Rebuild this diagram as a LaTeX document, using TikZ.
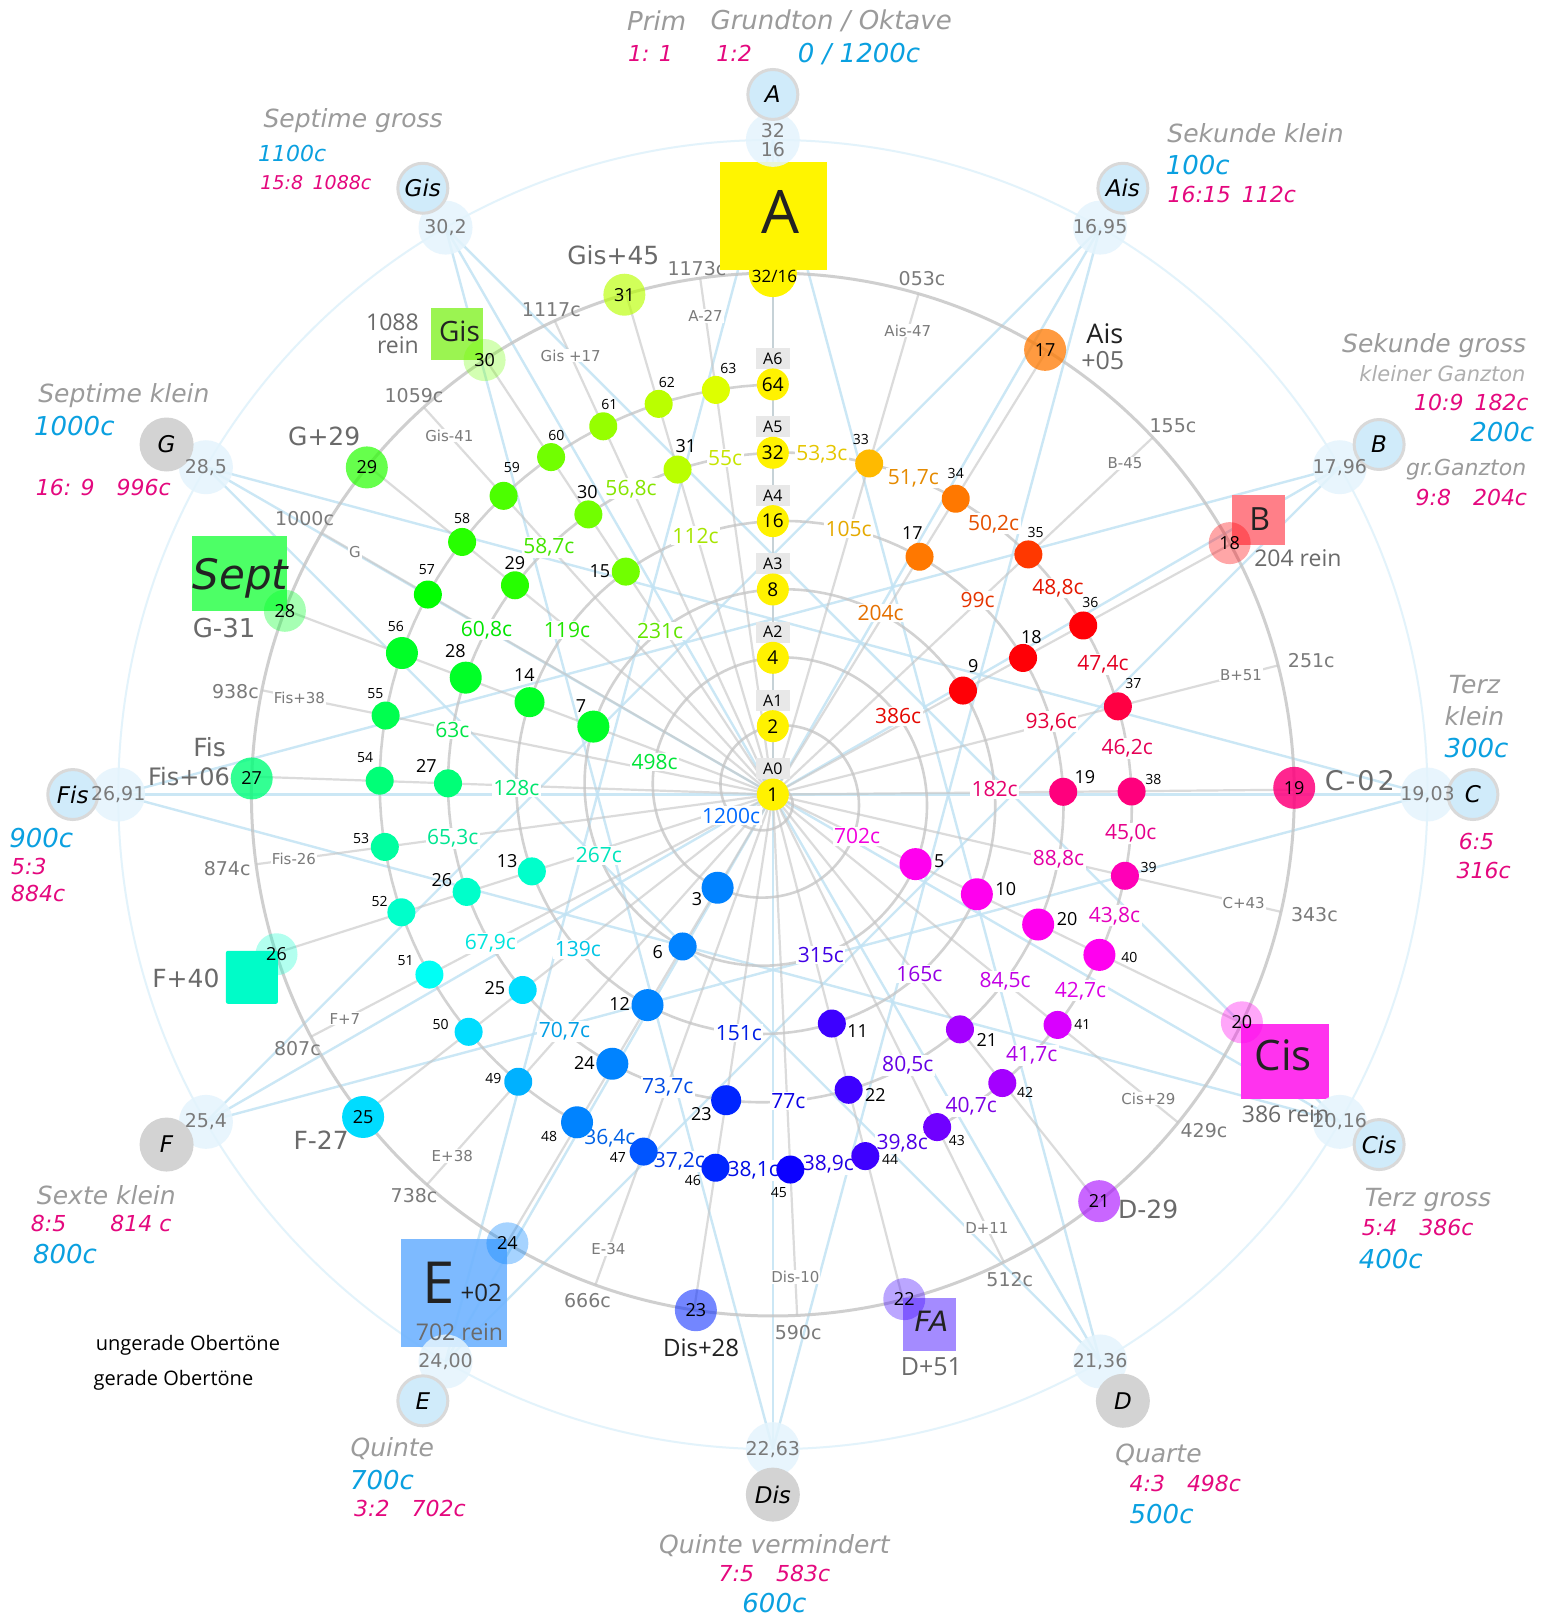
\documentclass[tikz,border=0pt]{standalone}
\usepackage{fontspec}
\setmainfont{Open Sans}
\newfontfamily\vfont{DejaVu Sans}
\usetikzlibrary{calc}
\definecolor{tgray}{HTML}{9B9B9B}
\definecolor{tblue}{HTML}{0AA0E0}
\definecolor{tmag}{HTML}{E4087E}
\definecolor{lgray}{HTML}{6A6A6A}
\definecolor{dgray}{HTML}{7A7A7A}
\definecolor{lineblue}{HTML}{C2E3F4}
\definecolor{faintblue}{HTML}{E3F3FB}
\definecolor{ringgray}{HTML}{C4C4C4}
\definecolor{etfill}{HTML}{E4F4FD}
\definecolor{notefill}{HTML}{D0EBFA}
\definecolor{notegray}{HTML}{D3D3D3}
\definecolor{noteborder}{HTML}{D9D9D9}
\definecolor{abox}{HTML}{E8E8E8}
\definecolor{sqA}{HTML}{FFF500}
\definecolor{sqGis}{HTML}{9BF451}
\definecolor{sqSept}{HTML}{4DFF66}
\definecolor{sqB}{HTML}{FF7F88}
\definecolor{sqCis}{HTML}{FF33EE}
\definecolor{sqE}{HTML}{72B5FF}
\definecolor{sqFA}{HTML}{A48BFF}
\definecolor{sqF}{HTML}{00FCC8}
\definecolor{txtdark}{HTML}{222222}
\newcommand\fsz[1]{\fontsize{#1}{#1}\selectfont}
\newcommand\sethue[3]{%
  \edef\hutmp{\noexpand\convertcolorspec{Hsb}{#2,1,#3}{rgb}\noexpand\hucs}\hutmp
  \edef\hutmp{\noexpand\definecolor{#1}{rgb}{\hucs}}\hutmp}
\tikzset{
 lb/.style={draw=lineblue, line width=2.4pt, opacity=0.85},
 ray/.style={draw=ringgray, line width=2.2pt, opacity=0.6},
 spir/.style={draw=ringgray, line width=2.6pt, opacity=0.75},
 ringc/.style={draw=ringgray, line width=3pt, opacity=0.8},
 faint/.style={draw=faintblue, line width=2pt},
 etn/.style={circle, fill=etfill, fill opacity=0.85, minimum size=54pt, inner sep=0pt},
 ett/.style={inner sep=0pt, text=dgray, align=center, font=\vfont\fsz{19}},
 note/.style={circle, fill=notefill, draw=noteborder, line width=3pt, minimum size=50pt, inner sep=0pt, font=\vfont\itshape\fsz{23}},
 noteg/.style={circle, fill=notegray, minimum size=54pt, inner sep=0pt, font=\vfont\itshape\fsz{23}},
 snode/.style={circle, inner sep=0pt},
 ilab/.style={fill=white, inner sep=1.5pt, font=\fsz{21}},
 dev/.style={fill=white, inner sep=1pt, text=dgray, font=\vfont\fsz{15}},
 cent/.style={inner sep=0pt, text=dgray, font=\vfont\fsz{19}},
 ttl/.style={text=tgray, font=\vfont\itshape\fsz{25}},
 blu/.style={text=tblue, font=\vfont\itshape\fsz{26}},
 mag/.style={text=tmag, font=\vfont\itshape\fsz{22}},
 bigl/.style={text=lgray, font=\vfont\fsz{25}},
 sqn/.style={inner sep=0pt, draw=none},
}
\begin{document}
\begin{tikzpicture}[x=1.0327pt,y=-1.0327pt]
\useasboundingbox (0,0) rectangle (1501,1568);
\fill[white] (0,0) rectangle (1501,1568);
\coordinate (O) at (748.5,769.5);
\foreach \ii in {0,...,11}{\coordinate (et\ii) at ($(O)+({30*\ii-90}:634)$);}
\draw[faint] (O) circle (634);
\foreach \ii in {0,...,11}{\pgfmathtruncatemacro\jj{mod(\ii+5,12)}\draw[lb] (et\ii) -- (et\jj);}
\foreach \ii in {0,...,5}{\pgfmathtruncatemacro\jj{\ii+6}\draw[lb] (et\ii) -- (et\jj);}
\draw[ringc] (O) circle (505);
\foreach \kk in {1,3,...,63}{\pgfmathsetmacro\tha{360*ln(\kk)/ln(2)}\coordinate (re\kk) at ($(O)+({\tha-90}:505)$);\draw[ray] (O) -- (re\kk);}
\draw[spir, shift={(O)}] plot[domain=0:6, samples=900] ({\x*360-90}:{66.2*\x});
% deviation and cent labels on the rays
\foreach \kk/\dt/\ct/\cx/\cy in {33/Ais-47/053c/893/270, 35/B-45/155c/1136/412, 37/B+51/251c/1270/640, 39/C+43/343c/1273/886, 41/Cis+29/429c/1166/1095, 43/D+11/512c/978/1239, 45/Dis-10/590c/773/1291, 47/E-34/666c/569/1260, 49/E+38/738c/401/1158, 51/F+7/807c/288/1016, 53/Fis-26/874c/220/841, 55/Fis+38/938c/228/670, 57/G/1000c/295/502, 59/Gis-41/1059c/401/383, 61/Gis +17/1117c/534/300, 63/A-27/1173c/675/260}{
  \pgfmathsetmacro\tha{360*ln(\kk)/ln(2)}
  \node[dev] at ($(O)+({\tha-90}:468)$) {\dt};
  \node[cent] at (\cx,\cy) {\ct};
}
% squares
\node[sqn, fill=sqA, minimum width=107pt, minimum height=108pt] (sqA) at (749,209.5) {};
\node[sqn, fill=sqGis, minimum width=52pt, minimum height=52pt] (sqGis) at (443,323) {};
\node[sqn, fill=sqSept, minimum width=95pt, minimum height=75pt] (sqSept) at (232,555.5) {};
\node[sqn, fill=sqB, minimum width=53pt, minimum height=50pt] (sqB) at (1218.5,504) {};
\node[sqn, fill=sqCis, minimum width=88pt, minimum height=75pt] (sqCis) at (1244.5,1028.5) {};
\node[sqn, fill=sqE, fill opacity=0.92, minimum width=106pt, minimum height=108pt] (sqE) at (439.5,1252.5) {};
\node[sqn, fill=sqFA, minimum width=53pt, minimum height=53pt] (sqFA) at (900.5,1282.5) {};
\node[sqn, fill=sqF, rounded corners=2pt, minimum width=52pt, minimum height=53pt] (sqF) at (244,946.5) {};
% ring nodes 17..31
\foreach \nn/\op in {17/0.75,18/0.35,19/0.85,20/0.35,21/0.6,22/0.35,23/0.55,24/0.35,25/1,26/0.3,27/0.8,28/0.35,29/0.7,30/0.3,31/0.65}{
  \pgfmathsetmacro\tha{360*ln(\nn/16)/ln(2)}
  \pgfmathsetmacro\hu{mod(780-\tha,360)}
  \sethue{nc}{\hu}{1}
  \node[snode, fill=nc, fill opacity=\op, text opacity=1, minimum size=42pt, font=\fsz{18}] (c\nn) at ($(O)+({\tha-90}:505)$) {\nn};
}
\node[snode, fill=sqA, minimum size=48pt] (c32) at ($(O)+(0,-505)$) {};
\node[sqn, fill=sqA, minimum width=107pt, minimum height=50pt] at (749,236) {};
\node[font=\fsz{17}] at (750,268) {32/16};
% A boxes on the axis
\foreach \nn/\ai in {1/0,2/1,4/2,8/3,16/4,32/5,64/6}{
  \pgfmathsetmacro\rr{66.2*\ai}
  \node[fill=abox, minimum width=34pt, minimum height=21pt, inner sep=0pt, font=\fsz{16}] (ab\ai) at ($(O)+(0,-\rr-25)$) {A\ai};
}
% interval labels (below the nodes)
\foreach \nn/\txt in {3/498c, 4/386c, 5/315c, 6/267c, 7/231c, 8/204c, 9/182c, 10/165c, 11/151c, 12/139c, 13/128c, 14/119c, 15/112c, 16/105c, 17/99c, 18/{93,6c}, 19/{88,8c}, 20/{84,5c}, 21/{80,5c}, 22/77c, 23/{73,7c}, 24/{70,7c}, 25/{67,9c}, 26/{65,3c}, 27/63c, 28/{60,8c}, 29/{58,7c}, 30/{56,8c}, 31/55c, 32/{53,3c}, 33/{51,7c}, 34/{50,2c}, 35/{48,8c}, 36/{47,4c}, 37/{46,2c}, 38/{45,0c}, 39/{43,8c}, 40/{42,7c}, 41/{41,7c}, 42/{40,7c}, 43/{39,8c}, 44/{38,9c}, 45/{38,1c}, 46/{37,2c}, 47/{36,4c}}{
  \pgfmathsetmacro\tm{(ln(\nn)+ln(\nn+1))/(2*ln(2))}
  \pgfmathsetmacro\hu{mod(7260-360*\tm,360)}
  \sethue{lc}{\hu}{0.9}
  \node[ilab, text=lc] at ($(O)+({360*\tm-90}:{66.2*\tm})$) {\txt};
}
\sethue{lcA}{215}{1}
\sethue{lcB}{305}{0.95}
\node[ilab, text=lcA] at (708,790) {1200c};
\node[ilab, text=lcB] at (830,810) {702c};
% spiral nodes
\foreach \nn/\sz/\dx/\dy in {3/32/-20/11, 5/32/23/-3, 6/28/-24/5, 7/32/-12/-20, 9/28/10/-24, 10/32/28/-5, 11/28/25/7, 12/32/-27/-1, 13/28/-24/-10, 14/30/-5/-26, 15/28/-25/0, 17/28/-7/-23, 18/28/8/-20, 19/28/21/-14, 20/32/28/-5, 21/28/26/10, 22/28/26/5, 23/30/-24/13, 24/32/-27/-1, 25/28/-27/-2, 26/28/-24/-11, 27/28/-21/-17, 28/32/-10/-26, 29/28/0/-22, 30/28/-1/-22, 31/28/8/-23, 33/28/-8/-23, 34/28/0/-24, 35/28/7/-21, 36/28/7/-22, 37/28/15/-22, 38/28/21/-12, 39/28/23/-8, 40/32/29/3, 41/28/24/0, 42/28/22/9, 43/28/19/13, 44/28/24/3, 45/28/-11/22, 46/28/-22/12, 47/28/-25/6, 48/32/-27/14, 49/28/-24/-3, 50/28/-27/-7, 51/28/-23/-14, 52/28/-21/-10, 53/28/-23/-8, 54/28/-14/-22, 55/28/-10/-21, 56/32/-6/-26, 57/28/-1/-24, 58/28/0/-23, 59/28/8/-27, 60/28/5/-21, 61/28/6/-21, 62/28/8/-21, 63/28/12/-21}{
  \pgfmathsetmacro\lgn{ln(\nn)/ln(2)}
  \pgfmathsetmacro\hu{mod(7260-360*\lgn,360)}
  \pgfmathsetmacro\fz{\nn<32 ? 18 : 14}
  \sethue{nc}{\hu}{1}
  \node[snode, fill=nc, minimum size=\sz pt] (s\nn) at ($(O)+({360*\lgn-90}:{66.2*\lgn})$) {};
  \node[inner sep=0pt, font=\fsz{\fz}] at ($(s\nn)+(\dx,\dy)$) {\nn};
}
\foreach \nn/\ai in {1/0,2/1,4/2,8/3,16/4,32/5,64/6}{
  \pgfmathsetmacro\rr{66.2*\ai}
  \node[snode, fill=yellow, minimum size=32pt, font=\fsz{19}] (s\nn) at ($(O)+(0,-\rr)$) {\nn};
}
% ET circles
\foreach \ii in {0,...,11}{\node[etn] (etn\ii) at (et\ii) {};}
% outer notes
\foreach \ii/\nm in {0/A, 1/Ais, 2/B, 3/C, 4/Cis, 7/E, 9/Fis, 11/Gis}{
  \node[note] (n\ii) at ($(O)+({30*\ii-90}:678)$) {\nm};
}
\foreach \ii/\nm in {5/D, 6/Dis, 8/F, 10/G}{
  \node[noteg] (n\ii) at ($(O)+({30*\ii-90}:678)$) {\nm};
}
% ET texts on top
\foreach \ii/\et in {0/{32\\16}, 1/{16,95}, 2/{17,96}, 3/{19,03}, 4/{20,16}, 5/{21,36}, 6/{22,63}, 7/{24,00}, 8/{25,4}, 9/{26,91}, 10/{28,5}, 11/{30,2}}{
  \node[ett] at (etn\ii.center) {\et};
}
% texts in squares and near ring
\node[font=\fsz{60}, text=txtdark] at (756,205) {A};
\node[font=\fsz{28}, text=txtdark] at (445,321) {Gis};
\node[bigl, font=\fsz{23}, align=right, anchor=east] at (409,323) {1088\\rein};
\node[font=\vfont\itshape\fsz{42}, text=txtdark] at (233,560) {Sept};
\node[bigl, font=\vfont\fsz{26}] at (217,608) {G-31};
\node[font=\fsz{32}, text=txtdark] at (1220,503) {B};
\node[bigl, font=\fsz{23}] at (1257,541) {204 rein};
\node[font=\fsz{42}, text=txtdark] at (1243,1022) {Cis};
\node[bigl, font=\fsz{23}] at (1245,1079) {386 rein};
\node[font=\fsz{58}, text=txtdark] at (425,1242) {E};
\node[font=\fsz{24}, text=txtdark] at (466,1252) {+02};
\node[bigl, font=\fsz{23}] at (445,1290) {702 rein};
\node[font=\vfont\itshape\fsz{28}, text=txtdark] at (902,1280) {FA};
\node[bigl, font=\fsz{25}] at (902,1324) {D+51};
\node[bigl] at (180,948) {F+40};
\node[bigl] at (594,247) {Gis+45};
\node[bigl] at (314,423) {G+29};
\node[bigl] at (203,724) {Fis};
\node[bigl, font=\vfont\fsz{24}] at (183,752) {Fis+06};
\node[bigl] at (311,1104) {F-27};
\node[font=\fsz{24}, text=txtdark] at (679,1305) {Dis+28};
\node[bigl] at (1112,1171) {D-29};
\node[bigl, font=\vfont\fsz{27}] at (1317,756) {C\kern2pt-\kern2pt0\kern3pt2};
\node[font=\fsz{27}, text=txtdark] at (1070,323) {Ais};
\node[bigl, font=\fsz{25}] at (1068,349) {+05};
% outer annotations
\node[ttl, font=\vfont\itshape\fsz{26}] at (636,20) {Prim};
\node[ttl, font=\vfont\itshape\fsz{26}] at (805,20) {Grundton / Oktave};
\node[mag] at (630,52) {1: 1};
\node[mag] at (711,52) {1:2};
\node[blu] at (832,52) {0 / 1200c};
\node[ttl] at (342,117) {Septime gross};
\node[blu, font=\vfont\itshape\fsz{22}] at (283,149) {1100c};
\node[mag, font=\vfont\itshape\fsz{19}] at (306,177) {15:8\enspace 1088c};
\node[ttl] at (1216,129) {Sekunde klein};
\node[blu] at (1160,160) {100c};
\node[mag] at (1193,188) {16:15\enspace 112c};
\node[ttl] at (1389,335) {Sekunde gross};
\node[ttl, font=\vfont\itshape\fsz{21}, text=tgray!80] at (1397,362) {kleiner Ganzton};
\node[mag] at (1425,390) {10:9\enspace 182c};
\node[blu] at (1455,418) {200c};
\node[ttl, font=\vfont\itshape\fsz{22}] at (1420,455) {gr.Ganzton};
\node[mag] at (1425,482) {9:8\quad 204c};
\node[ttl] at (120,383) {Septime klein};
\node[blu] at (72,413) {1000c};
\node[mag] at (100,472) {16: 9\quad 996c};
\node[ttl] at (1428,663) {Terz};
\node[ttl] at (1428,694) {klein};
\node[blu] at (1430,724) {300c};
\node[mag] at (1430,815) {6:5};
\node[mag] at (1437,843) {316c};
\node[blu] at (40,812) {900c};
\node[mag] at (28,839) {5:3};
\node[mag] at (37,865) {884c};
\node[ttl] at (103,1158) {Sexte klein};
\node[mag] at (98,1185) {8:5\quad\quad 814 c};
\node[blu] at (63,1215) {800c};
\node[ttl] at (380,1403) {Quinte};
\node[blu] at (370,1433) {700c};
\node[mag] at (397,1461) {3:2\quad 702c};
\node[ttl] at (750,1497) {Quinte vermindert};
\node[mag] at (750,1524) {7:5\quad 583c};
\node[blu] at (750,1553) {600c};
\node[ttl] at (1122,1409) {Quarte};
\node[mag] at (1148,1437) {4:3\quad 498c};
\node[blu] at (1125,1466) {500c};
\node[ttl] at (1383,1162) {Terz gross};
\node[mag] at (1373,1189) {5:4\quad 386c};
\node[blu] at (1347,1219) {400c};
\node[font=\fsz{20}] at (182,1303) {ungerade Obertöne};
\node[font=\fsz{20}] at (168,1337) {gerade Obertöne};
\end{tikzpicture}
\end{document}
